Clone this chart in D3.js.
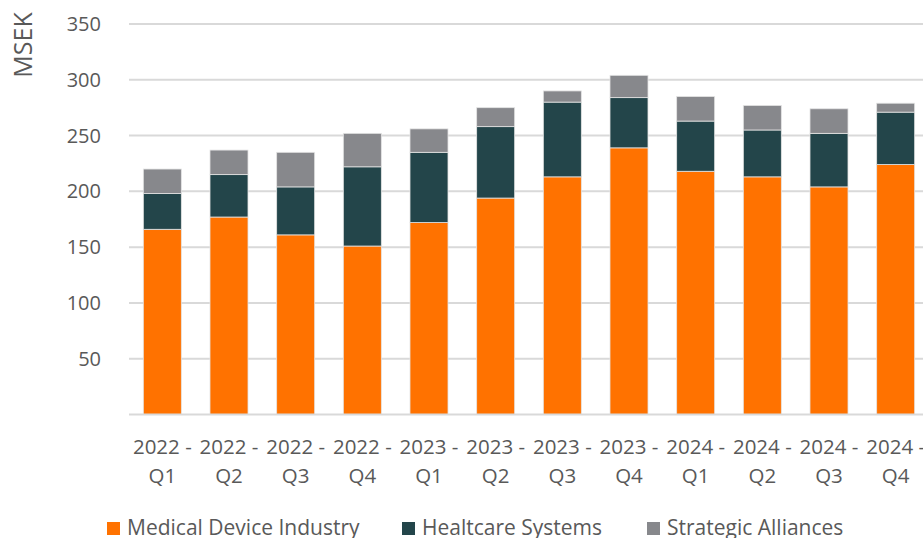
<!DOCTYPE html>
<html>
<head>
<meta charset="utf-8">
<script src="https://cdn.jsdelivr.net/npm/d3@7"></script>
<style>
  html, body { margin: 0; padding: 0; background: #fff; }
  svg { display: block; font-family: "Open Sans", sans-serif; }
</style>
</head>
<body>
<svg id="chart" width="923" height="538"></svg>
<script>
const years = ["2022", "2022", "2022", "2022", "2023", "2023", "2023", "2023", "2024", "2024", "2024", "2024"];
const quarters = ["Q1", "Q2", "Q3", "Q4", "Q1", "Q2", "Q3", "Q4", "Q1", "Q2", "Q3", "Q4"];
const medicalDevice = [166, 177, 161, 151, 172, 194, 213, 239, 218, 213, 204, 224];
const healthcareSystems = [32, 38, 43, 71, 63, 64, 67, 45, 45, 42, 48, 47];
const strategicAlliances = [22, 22, 31, 30, 21, 17, 10, 20, 22, 22, 22, 8];
const seriesNames = ["Medical Device Industry", "Healtcare Systems", "Strategic Alliances"];
const seriesColors = ["#ff7200", "#23454a", "#87888c"];
const yTicks = [50, 100, 150, 200, 250, 300, 350];

const categories = years.map((y, i) => y + " - " + quarters[i]);
const rows = categories.map((c, i) => ({
  cat: c,
  s0: medicalDevice[i],
  s1: healthcareSystems[i],
  s2: strategicAlliances[i]
}));

const svg = d3.select("#chart");
const plotLeft = 129, plotRight = 929, plotTop = 24, plotBottom = 414.5;

const x = d3.scaleBand().domain(categories).range([plotLeft, plotRight])
  .paddingInner(0.43).paddingOuter(0.215);
const y = d3.scaleLinear().domain([0, 350]).range([plotBottom, plotTop]);

// gridlines
svg.append("g").selectAll("line").data(yTicks).join("line")
  .attr("x1", plotLeft).attr("x2", 923)
  .attr("y1", d => y(d)).attr("y2", d => y(d))
  .attr("stroke", "#d9d9d9").attr("stroke-width", 2);

// y tick labels
svg.append("g").selectAll("text").data(yTicks).join("text")
  .attr("x", 101).attr("y", d => y(d))
  .attr("dy", "0.35em")
  .attr("text-anchor", "end")
  .attr("fill", "#595959")
  .attr("font-size", 20)
  .text(d => d);

// y axis title
svg.append("text")
  .attr("transform", "translate(32,45) rotate(-90)")
  .attr("text-anchor", "middle")
  .attr("fill", "#595959")
  .attr("font-size", 25)
  .text("MSEK");

// stacked bars
const stack = d3.stack().keys(["s0", "s1", "s2"]);
const stacked = stack(rows);
svg.append("g").selectAll("g").data(stacked).join("g")
  .attr("fill", (d, i) => seriesColors[i])
  .selectAll("rect").data(d => d).join("rect")
  .attr("x", d => x(d.data.cat))
  .attr("width", x.bandwidth())
  .attr("y", d => y(d[1]))
  .attr("height", d => y(d[0]) - y(d[1]))
  .attr("stroke", "#e4e4e4")
  .attr("stroke-width", 0.8);

// baseline
svg.append("line")
  .attr("x1", plotLeft).attr("x2", 923)
  .attr("y1", y(0)).attr("y2", y(0))
  .attr("stroke", "#d9d9d9").attr("stroke-width", 2);

// x labels (two lines)
const xl = svg.append("g").selectAll("text").data(categories).join("text")
  .attr("text-anchor", "middle")
  .attr("fill", "#595959")
  .attr("font-size", 20.5);
xl.append("tspan")
  .attr("x", d => x(d) + x.bandwidth() / 2)
  .attr("y", 454)
  .text((d, i) => years[i] + " -");
xl.append("tspan")
  .attr("x", d => x(d) + x.bandwidth() / 2)
  .attr("y", 483)
  .text((d, i) => quarters[i]);

// legend
const legendX = [107, 402, 647];
const lg = svg.append("g").selectAll("g").data(seriesNames).join("g")
  .attr("transform", (d, i) => `translate(${legendX[i]},0)`);
lg.append("rect")
  .attr("x", 0).attr("y", 522).attr("width", 13).attr("height", 13)
  .attr("fill", (d, i) => seriesColors[i]);
lg.append("text")
  .attr("x", 20).attr("y", 535)
  .attr("fill", "#595959")
  .attr("font-size", 21)
  .text(d => d);
</script>
</body>
</html>
